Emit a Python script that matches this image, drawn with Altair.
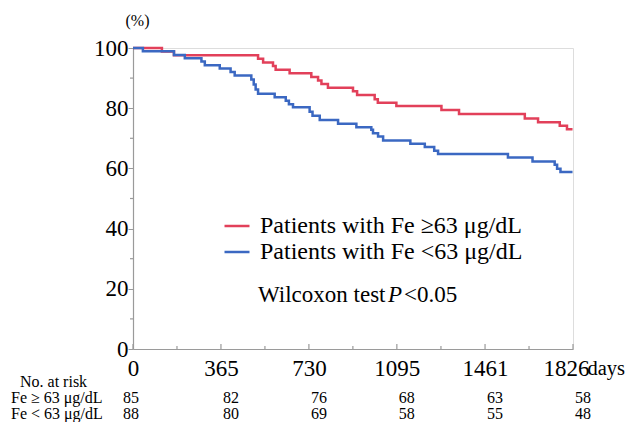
import altair as alt
import pandas as pd

# ---- data ----
red_label = "Patients with Fe ≥63 μg/dL"
blue_label = "Patients with Fe <63  μg/dL"

red_days = [0, 120, 170, 519, 540, 581, 592, 650, 740, 768, 782, 809, 913, 930,
            1003, 1016, 1093, 1280, 1353, 1626, 1681, 1771, 1801, 1824]
red_surv = [100, 98.8, 97.6, 96.4, 95.2, 94.0, 92.8, 91.6, 90.4, 89.2, 88.0, 86.8,
            85.6, 84.4, 83.0, 81.8, 80.7, 79.4, 78.1, 76.6, 75.3, 74.2, 73.0, 73.0]

blue_days = [0, 41, 170, 215, 284, 298, 360, 405, 422, 491, 501, 509, 519, 588, 634,
             647, 664, 733, 745, 775, 851, 927, 989, 996, 1017, 1038, 1151, 1211,
             1250, 1266, 1556, 1658, 1750, 1760, 1774, 1824]
blue_surv = [100, 98.9, 97.7, 96.6, 95.5, 94.3, 93.2, 92.0, 90.9, 89.5, 87.9, 86.2,
             84.8, 83.6, 82.5, 81.3, 80.3, 78.8, 77.5, 76.1, 74.8, 73.7, 72.8, 71.7,
             70.6, 69.3, 68.2, 67.1, 65.9, 64.8, 63.6, 62.3, 61.2, 59.9, 58.8, 58.8]

x_ticks = [0, 365, 730, 1095, 1461, 1826]
x_minor = [182.5, 547.5, 912.5, 1278, 1643.5]
y_ticks = [0, 20, 40, 60, 80, 100]
y_minor = [10, 30, 50, 70, 90]

risk_hi = [85, 82, 76, 68, 63, 58]
risk_lo = [88, 80, 69, 58, 55, 48]

# ---- tables ----
curves = pd.concat([
    pd.DataFrame({"day": red_days, "surv": red_surv, "group": red_label}),
    pd.DataFrame({"day": blue_days, "surv": blue_surv, "group": blue_label}),
])
xmaj = pd.DataFrame({"day": x_ticks})
xmin = pd.DataFrame({"day": x_minor})
ymin = pd.DataFrame({"surv": y_minor})
risk = pd.DataFrame({"day": x_ticks, "hi": risk_hi, "lo": risk_lo})

FONT = "Liberation Serif"
AX = "#9a9a9a"
W, H = 440, 301

xscale = alt.Scale(domain=[0, 1826], nice=False, zero=False)
yscale = alt.Scale(domain=[0, 100], nice=False)

lines = alt.Chart(curves).mark_line(interpolate="step-after", strokeWidth=2.5).encode(
    x=alt.X("day:Q", scale=xscale,
            axis=alt.Axis(values=x_ticks, format="d", ticks=False, grid=False,
                          labelFont=FONT, labelFontSize=23, labelColor="black",
                          labelPadding=8, labelFlush=False, domainColor=AX,
                          domainWidth=1.2,
                          labelOffset={"condition": {"test": "datum.value == 1826",
                                                     "value": -7},
                                       "value": 0},
                          title="days", titleFont=FONT, titleFontSize=20.5,
                          titleFontWeight="normal", titleColor="black",
                          titleX=454, titleY=9, titleAlign="left",
                          titleBaseline="top")),
    y=alt.Y("surv:Q", scale=yscale,
            axis=alt.Axis(values=y_ticks, tickSize=5, tickColor=AX, grid=False,
                          labelFont=FONT, labelFontSize=23, labelColor="black",
                          labelPadding=0, domainColor=AX, domainWidth=1.2,
                          title="(%)", titleAngle=0, titleX=4, titleY=-28,
                          titleAlign="center", titleBaseline="middle",
                          titleFont=FONT, titleFontSize=16,
                          titleFontWeight="normal", titleColor="black")),
    color=alt.Color("group:N",
                    scale=alt.Scale(domain=[red_label, blue_label],
                                    range=["#E2405A", "#3B68C2"]),
                    sort=[red_label, blue_label],
                    legend=alt.Legend(orient="none", legendX=90, legendY=164,
                                      title=None, symbolType="stroke",
                                      symbolSize=625, symbolStrokeWidth=2.5,
                                      labelFont=FONT, labelFontSize=24,
                                      labelColor="black", labelLimit=400,
                                      labelOffset=9, rowPadding=0, padding=0)),
)

xtick_major = alt.Chart(xmaj).mark_rule(color=AX, strokeWidth=1.2).encode(
    x=alt.X("day:Q", scale=xscale), y=alt.value(H - 5), y2=alt.value(H))
xtick_minor = alt.Chart(xmin).mark_rule(color=AX, strokeWidth=1.2).encode(
    x=alt.X("day:Q", scale=xscale), y=alt.value(H - 3), y2=alt.value(H))
ytick_minor = alt.Chart(ymin).mark_rule(color=AX, strokeWidth=1.2).encode(
    y=alt.Y("surv:Q", scale=yscale), x=alt.value(-3), x2=alt.value(0))

def label(txt, x, y, size=23, style="normal"):
    return alt.Chart(pd.DataFrame({"t": [txt]})).mark_text(
        font=FONT, fontSize=size, fontStyle=style, align="left",
        baseline="middle", color="black").encode(
        text="t:N", x=alt.value(x), y=alt.value(y))

annot = (label("Wilcoxon test", 125, 247) + label("P", 255, 247, style="italic")
         + label("<0.05", 271, 247))

rows = (label("No. at risk", -113, 334, size=16)
        + label("Fe ≥ 63 μg/dL", -122, 350, size=16)
        + label("Fe < 63 μg/dL", -122, 366, size=16))

risk_first = risk[risk["day"] == 0]
risk_rest = risk[risk["day"] > 0]

def risk_text(df, field, ypix, align, dx):
    return alt.Chart(df).mark_text(font=FONT, fontSize=16, align=align,
                                   baseline="middle", dx=dx, color="black").encode(
        x=alt.X("day:Q", scale=xscale), y=alt.value(ypix), text=f"{field}:Q")

risk_layer = (risk_text(risk_first, "hi", 350, "center", -2)
              + risk_text(risk_first, "lo", 366, "center", -2)
              + risk_text(risk_rest, "hi", 350, "left", 2)
              + risk_text(risk_rest, "lo", 366, "left", 2))

chart = alt.layer(lines, xtick_major, xtick_minor, ytick_minor, annot, rows,
                  risk_layer).properties(
    width=W, height=H,
    autosize=alt.AutoSizeParams(type="none"),
    padding={"left": 125, "top": 40, "right": 55, "bottom": 73},
).configure_view(stroke=None).configure(background="white")

chart.save("out.html", embed_options={"renderer": "svg", "actions": False})
